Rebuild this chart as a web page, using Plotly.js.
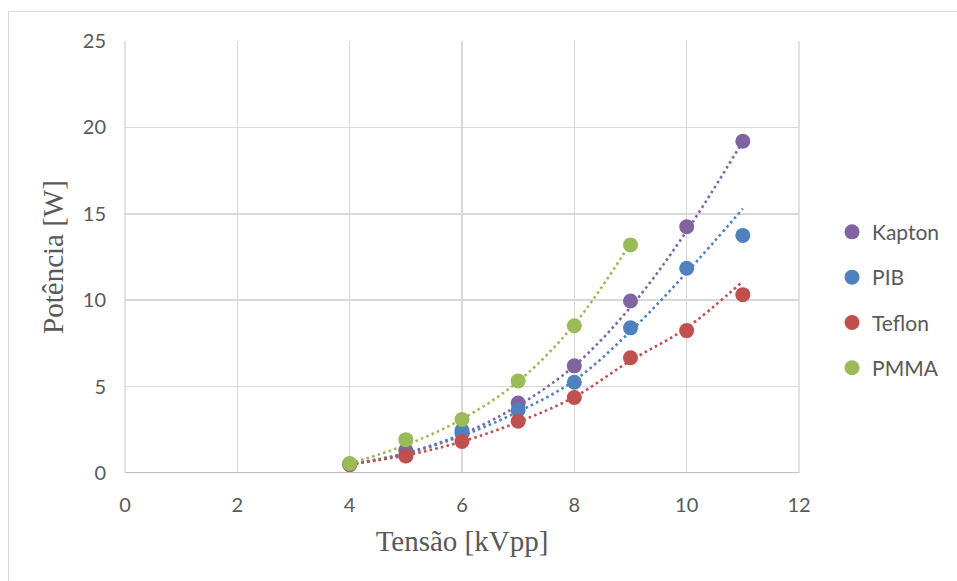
<!DOCTYPE html>
<html>
<head>
<meta charset="utf-8">
<script src="https://cdn.plot.ly/plotly-3.0.1.min.js"></script>
<style>
html,body{margin:0;padding:0;background:#fff;}
#wrap{position:relative;width:957px;height:581px;overflow:hidden;}
#chart{position:absolute;left:0;top:0;width:957px;height:581px;}
#frame{position:absolute;left:8px;top:11px;width:1000px;height:700px;border-left:1.5px solid #d9d9d9;border-top:1.5px solid #d9d9d9;pointer-events:none;}
</style>
</head>
<body>
<div id="wrap"><div id="chart"></div><div id="frame"></div></div>
<script>
// Measured data
const tensao = [4, 5, 6, 7, 8, 9, 10, 11];
const tensaoPMMA = [4, 5, 6, 7, 8, 9];
const kapton = [0.5, 1.3, 2.3, 4.05, 6.2, 9.95, 14.25, 19.2];
const pib = [0.5, 1.0, 2.45, 3.65, 5.25, 8.4, 11.85, 13.75];
const teflon = [0.5, 0.98, 1.82, 3.0, 4.37, 6.67, 8.24, 10.32];
const pmma = [0.55, 1.93, 3.1, 5.33, 8.52, 13.2];

// Trendline values
const kaptonTrend = [0.5, 1.15, 2.25, 3.9, 6.2, 9.6, 14.0, 19.2];
const pibTrend = [0.5, 1.12, 2.15, 3.55, 5.35, 8.2, 11.6, 15.3];
const teflonTrend = [0.5, 1.02, 1.82, 2.95, 4.4, 6.5, 8.4, 11.1];
const pmmaTrend = [0.55, 1.62, 3.12, 5.3, 8.6, 13.3];

const names = ['Kapton', 'PIB', 'Teflon', 'PMMA'];
const colors = ['#8064A2', '#4F81BD', '#C0504D', '#9BBB59'];

const series = [
  {x: tensao, y: kapton, t: kaptonTrend},
  {x: tensao, y: pib, t: pibTrend},
  {x: tensao, y: teflon, t: teflonTrend},
  {x: tensaoPMMA, y: pmma, t: pmmaTrend}
];

const traces = [];
series.forEach((s, i) => {
  traces.push({
    x: s.x, y: s.t, mode: 'lines', type: 'scatter', showlegend: false,
    hoverinfo: 'skip',
    line: {color: colors[i], width: 2.6, dash: '2.6px,3.2px', shape: 'spline', smoothing: 1}
  });
});
series.forEach((s, i) => {
  traces.push({
    x: s.x, y: s.y, mode: 'markers', type: 'scatter', name: names[i],
    legendgroup: names[i],
    marker: {color: colors[i], size: 15, line: {width: 0}}
  });
});

const gridc = '#d9d9d9';
const tickFont = {family: 'Lato, "Open Sans", sans-serif', size: 20, color: '#595959'};
const titleFont = {family: '"Liberation Serif", serif', size: 29, color: '#595959'};

const layout = {
  width: 957, height: 581,
  margin: {l: 125, r: 158, t: 41, b: 108},
  paper_bgcolor: '#ffffff', plot_bgcolor: '#ffffff',
  showlegend: true,
  xaxis: {
    range: [0, 12], dtick: 2, tick0: 0, showgrid: true, gridcolor: gridc, gridwidth: 1.5,
    zeroline: false, showline: false, ticks: '', tickfont: tickFont,
    ticklabelstandoff: 18, fixedrange: true,
    title: {text: 'Tensão [kVpp]', font: titleFont, standoff: 15}
  },
  yaxis: {
    range: [0, 25], dtick: 5, tick0: 0, showgrid: true, gridcolor: gridc, gridwidth: 1.5,
    zeroline: false, showline: false, ticks: '', tickfont: tickFont,
    ticklabelstandoff: 18, fixedrange: true,
    title: {text: 'Potência [W]', font: titleFont, standoff: 10}
  },
  shapes: [
    {type: 'line', xref: 'paper', yref: 'y', x0: 0, x1: 1, y0: 0, y1: 0,
     line: {color: '#bfbfbf', width: 2}},
    {type: 'line', xref: 'paper', yref: 'paper', x0: 0, x1: 0, y0: 0, y1: 1,
     line: {color: gridc, width: 1.5}},
    {type: 'line', xref: 'paper', yref: 'paper', x0: 1, x1: 1, y0: 0, y1: 1,
     line: {color: gridc, width: 1.5}}
  ],
  legend: {
    x: 1.049, xanchor: 'left', y: 0.40, yanchor: 'middle',
    font: {family: 'Lato, "Open Sans", sans-serif', size: 21, color: '#595959'},
    traceorder: 'grouped', tracegroupgap: 15, itemwidth: 30,
    bgcolor: 'rgba(0,0,0,0)'
  },
  hovermode: false
};

Plotly.newPlot('chart', traces, layout, {staticPlot: true, displayModeBar: false});
</script>
</body>
</html>
